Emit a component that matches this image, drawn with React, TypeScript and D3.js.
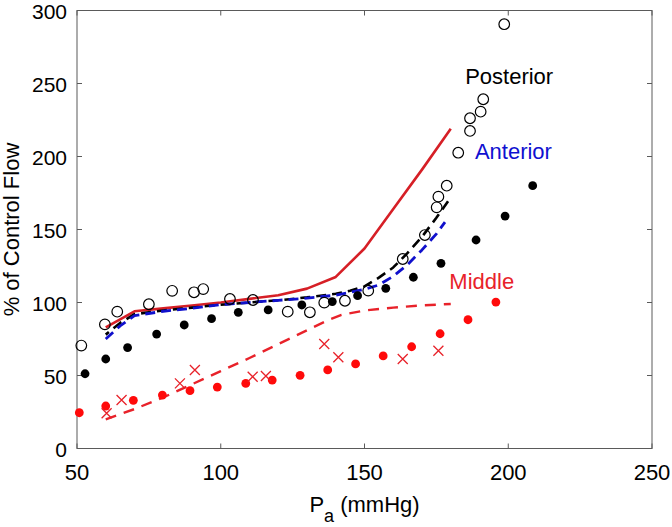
import React, { useEffect, useRef } from 'react';
import * as d3 from 'd3';

type Pt = [number, number];

const xTicks = [50, 100, 150, 200, 250];
const yTicks = [0, 50, 100, 150, 200, 250, 300];

// Posterior measurements (open circles)
const posteriorOpen: Pt[] = [
  [51.5, 70.5], [59.7, 85], [64, 93.7], [75, 98.8], [83.1, 108], [90.7, 107],
  [93.9, 109.2], [103.2, 102.4], [111.2, 101.7], [123.3, 93.7], [131, 93.3],
  [136, 99.9], [143.2, 101.2], [151.3, 108.1], [163.3, 129.8], [171, 146.2],
  [175.1, 165.2], [175.7, 172.5], [178.6, 180], [182.6, 202.6], [186.7, 217.5],
  [186.7, 226.2], [190.4, 230.7], [191.3, 239.2], [198.6, 290.6],
];

// Filled black dots
const blackDots: Pt[] = [
  [52.8, 51.2], [60, 61.3], [67.6, 69.1], [77.7, 78.4], [87.3, 84.6], [96.8, 88.9],
  [106.1, 93.3], [116.5, 94.9], [128.2, 98.3], [138.8, 100.6], [147.6, 104.7],
  [157.4, 109.7], [167, 117.3], [176.6, 126.8], [188.8, 142.8], [198.9, 159.2],
  [208.5, 180],
];

// Middle measurements (red dots)
const middleDots: Pt[] = [
  [50.8, 24.5], [60, 29.1], [69.6, 33], [79.7, 36.6], [89.3, 39.6], [98.8, 42.1],
  [108.7, 44.6], [117.9, 46.9], [127.6, 50.1], [137.2, 53.8], [146.9, 57.9],
  [156.5, 63.4], [166.4, 69.7], [176.3, 78.6], [186, 88.2], [195.7, 100.3],
];

// Middle measurements (red crosses)
const middleCrosses: Pt[] = [
  [60.3, 24.1], [65.5, 33.2], [85.8, 44.6], [91, 53.8], [111.1, 49.2],
  [115.7, 49.7], [136, 71.6], [140.9, 62.5], [163.3, 61.3], [175.7, 67],
];

// Model curves
const redSolid: Pt[] = [
  [60, 83], [70, 94], [80, 96], [90, 98], [100, 100], [110, 102.5], [120, 105],
  [130, 109.5], [140, 117.5], [150, 137], [160, 164], [170, 191], [180, 219],
];
const posteriorLine: Pt[] = [
  [60, 78], [65, 86], [70, 92], [80, 94.5], [90, 96.5], [100, 98.5], [110, 100],
  [120, 101.5], [130, 103.5], [140, 106], [145, 108], [150, 111], [155, 117],
  [160, 124], [165, 134], [170, 145], [175, 158], [180, 172],
];
const anteriorLine: Pt[] = [
  [60, 75], [65, 84], [70, 91], [80, 94], [90, 96], [100, 98.5], [110, 100],
  [120, 101.5], [130, 103], [140, 105], [150, 109], [155, 112], [160, 118],
  [165, 126], [170, 136], [175, 147], [178, 155],
];
const middleLine: Pt[] = [
  [60, 20], [70, 27], [80, 35], [90, 44], [100, 53], [110, 62], [120, 71.5],
  [130, 81], [138, 88.5], [142, 91.5], [150, 94.5], [160, 96.5], [170, 98], [180, 99],
];

const W = 672;
const H = 527;
const FONT = '"Liberation Sans", Arial, Helvetica, sans-serif';

const App: React.FC = () => {
  const svgRef = useRef<SVGSVGElement>(null);

  useEffect(() => {
    const svg = d3.select(svgRef.current);
    svg.selectAll('*').remove();

    const left = 77, right = 652, top = 10.5, bottom = 448.5;
    const x = d3.scaleLinear().domain([50, 250]).range([left, right]);
    const y = d3.scaleLinear().domain([0, 300]).range([bottom, top]);
    const axisColor = '#5a5a5a';

    // box + inward ticks
    const frame = svg.append('g').attr('stroke', axisColor).attr('stroke-width', 1).attr('fill', 'none');
    frame.append('rect')
      .attr('x', left).attr('y', top)
      .attr('width', right - left).attr('height', bottom - top);
    xTicks.forEach(t => {
      frame.append('line').attr('x1', x(t)).attr('x2', x(t)).attr('y1', bottom).attr('y2', bottom - 5);
      frame.append('line').attr('x1', x(t)).attr('x2', x(t)).attr('y1', top).attr('y2', top + 5);
    });
    yTicks.forEach(t => {
      frame.append('line').attr('x1', left).attr('x2', left + 5).attr('y1', y(t)).attr('y2', y(t));
      frame.append('line').attr('x1', right).attr('x2', right - 5).attr('y1', y(t)).attr('y2', y(t));
    });

    const txt = svg.append('g').style('font-family', FONT).attr('fill', '#000');
    txt.selectAll('text.xt').data(xTicks).join('text')
      .attr('class', 'xt')
      .attr('x', d => x(d)).attr('y', bottom + 31)
      .attr('text-anchor', 'middle').style('font-size', '22px')
      .text(d => d);
    txt.selectAll('text.yt').data(yTicks).join('text')
      .attr('class', 'yt')
      .attr('x', left - 10).attr('y', d => y(d) + 8.5)
      .attr('text-anchor', 'end').style('font-size', '21px')
      .text(d => d);

    // axis labels
    const xl = txt.append('text')
      .attr('x', (left + right) / 2).attr('y', 511.5)
      .attr('text-anchor', 'middle').style('font-size', '22px');
    xl.append('tspan').text('P');
    xl.append('tspan').attr('dy', 10).style('font-size', '18px').text('a');
    xl.append('tspan').attr('dy', -10).text(' (mmHg)');

    txt.append('text')
      .attr('transform', `translate(19,${(top + bottom) / 2}) rotate(-90)`)
      .attr('text-anchor', 'middle').style('font-size', '22px')
      .text('% of Control Flow');

    // curves
    const line = d3.line<Pt>().x(d => x(d[0])).y(d => y(d[1]));
    const curves = svg.append('g').attr('fill', 'none').attr('stroke-linejoin', 'round');
    curves.append('path').datum(redSolid)
      .attr('d', line).attr('stroke', '#d61f26').attr('stroke-width', 2.6);
    curves.append('path').datum(posteriorLine)
      .attr('d', line).attr('stroke', '#000').attr('stroke-width', 2.6)
      .attr('stroke-dasharray', '10,6').attr('stroke-dashoffset', 6);
    curves.append('path').datum(anteriorLine)
      .attr('d', line).attr('stroke', '#1010cc').attr('stroke-width', 2.8)
      .attr('stroke-dasharray', '10,6');
    curves.append('path').datum(middleLine)
      .attr('d', line).attr('stroke', '#e8222a').attr('stroke-width', 2.4)
      .attr('stroke-dasharray', '11,8');

    // markers
    const marks = svg.append('g');
    marks.selectAll('circle.bd').data(blackDots).join('circle')
      .attr('class', 'bd')
      .attr('cx', d => x(d[0])).attr('cy', d => y(d[1])).attr('r', 4.4)
      .attr('fill', '#000');
    marks.selectAll('circle.rd').data(middleDots).join('circle')
      .attr('class', 'rd')
      .attr('cx', d => x(d[0])).attr('cy', d => y(d[1])).attr('r', 4.4)
      .attr('fill', '#ff0a0a');
    marks.selectAll('circle.po').data(posteriorOpen).join('circle')
      .attr('class', 'po')
      .attr('cx', d => x(d[0])).attr('cy', d => y(d[1])).attr('r', 5.3)
      .attr('fill', 'none').attr('stroke', '#000').attr('stroke-width', 1.2);
    const s = 5;
    marks.selectAll('path.cx').data(middleCrosses).join('path')
      .attr('class', 'cx')
      .attr('d', d => {
        const cx = x(d[0]), cy = y(d[1]);
        return `M${cx - s},${cy - s}L${cx + s},${cy + s}M${cx - s},${cy + s}L${cx + s},${cy - s}`;
      })
      .attr('stroke', '#e8222a').attr('stroke-width', 1.3).attr('fill', 'none');

    // annotations
    const ann = svg.append('g').style('font-family', FONT).style('font-size', '22px');
    ann.append('text').attr('x', x(185)).attr('y', y(249.7)).attr('fill', '#000').text('Posterior');
    ann.append('text').attr('x', x(188.4)).attr('y', y(198.1)).attr('fill', '#1010d0').text('Anterior');
    ann.append('text').attr('x', x(179.5)).attr('y', y(109.2)).attr('fill', '#e8222a').text('Middle');
  }, []);

  return (
    <svg
      ref={svgRef}
      width={W}
      height={H}
      viewBox={`0 0 ${W} ${H}`}
      style={{ position: 'absolute', left: 0, top: 0, background: '#fff', display: 'block' }}
    />
  );
};

export default App;
